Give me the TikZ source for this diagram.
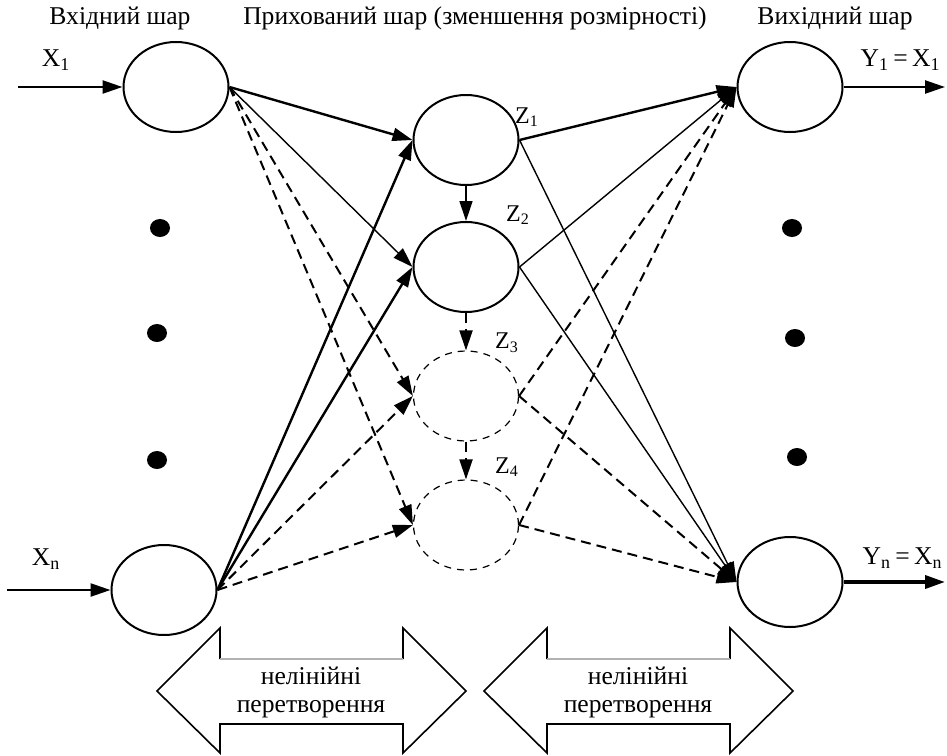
\documentclass[tikz,border=0pt]{standalone}
\usepackage{fontspec}
\setmainfont{Liberation Serif}
\usetikzlibrary{positioning,shapes.geometric,arrows.meta}

\begin{document}
\begin{tikzpicture}[x=0.5pt,y=-0.5pt,
				>={Triangle[length=10pt,width=6.5pt]},
				neuron/.style={ellipse, draw=black, line width=1pt, minimum width=52.5pt, minimum height=45pt, inner sep=0pt},
				hidneuron/.style={neuron, line width=0.6pt, dash pattern=on 3.5pt off 3pt},
				dotnode/.style={ellipse, fill=black, minimum width=10pt, minimum height=9pt, inner sep=0pt},
				lbl/.style={font=\fontsize{12.8}{15}\selectfont, inner sep=0pt},
				zlbl/.style={font=\fontsize{12}{14}\selectfont, inner sep=0pt},
				strong/.style={->, line width=1.2pt},
				weak/.style={->, line width=0.7pt},
				dashline/.style={->, line width=1pt, dash pattern=on 5pt off 3pt},
				bigarrow/.style={draw=black, line width=0.8pt},
				]
				\useasboundingbox (0,0) rectangle (947,755);
		
				%Titles
				\node[lbl]	(titlein)	at (120,18)	{Вхідний шар};
				\node[lbl]	(titlehid)	at (475,18)	{Прихований шар (зменшення розмірності)};
				\node[lbl]	(titleout)	at (835,18)	{Вихідний шар};
		
				%Nodes
				\node[neuron]	(in1)	at (176,87)	{};
				\node[neuron]	(inn)	at (164,590)	{};
				\node[neuron]	(z1)	at (466,140)	{};
				\node[neuron]	(z2)	at (466,267)	{};
				\node[hidneuron]	(z3)	at (466,396)	{};
				\node[hidneuron]	(z4)	at (466,525)	{};
				\node[neuron]	(out1)	at (790,87)	{};
				\node[neuron]	(outn)	at (790,582)	{};
		
				\node[zlbl]	(lz1)	at (527,117)	{Z\textsubscript{1}};
				\node[zlbl]	(lz2)	at (518,215)	{Z\textsubscript{2}};
				\node[zlbl]	(lz3)	at (507,343)	{Z\textsubscript{3}};
				\node[zlbl]	(lz4)	at (507,467)	{Z\textsubscript{4}};
		
				\node[lbl]	(lx1)	at (56,60)	{X\textsubscript{1}};
				\node[lbl]	(lxn)	at (46,559)	{X\textsubscript{n}};
				\node[lbl, anchor=east]	(ly1)	at (941,60)	{Y\textsubscript{1}\,=\,X\textsubscript{1}};
				\node[lbl, anchor=east]	(lyn)	at (943,558)	{Y\textsubscript{n}\,=\,X\textsubscript{n}};
		
				%Dots
				\foreach \i/\x/\y in {1/160/228, 2/157/333, 3/157/460}
					\node[dotnode]	(dotl\i)	at (\x,\y)	{};
				\foreach \i/\x/\y in {1/792/228, 2/795/338, 3/797/457}
					\node[dotnode]	(dotr\i)	at (\x,\y)	{};
		
				%Inputs and outputs
				\coordinate (x1in)	at (18,87);
				\coordinate (xnin)	at (7,590);
				\coordinate (y1out)	at (945,87);
				\coordinate (ynout)	at (945,582);
				\draw[strong]	(x1in) -- (in1.west);
				\draw[strong]	(xnin) -- (inn.west);
				\draw[strong]	(out1.east) -- (y1out);
				\draw[->, line width=1.8pt]	(outn.east) -- (ynout);
		
				%Lines
				\draw[strong]	(in1.east) -- (z1.west);
				\draw[weak]	(in1.east) -- (z2.west);
				\draw[dashline]	(in1.east) -- (z3.west);
				\draw[dashline]	(in1.east) -- (z4.west);
				\draw[strong]	(inn.east) -- (z1.west);
				\draw[strong]	(inn.east) -- (z2.west);
				\draw[dashline]	(inn.east) -- (z3.west);
				\draw[dashline]	(inn.east) -- (z4.west);
		
				\draw[strong]	(z1.east) -- (out1.west);
				\draw[weak]	(z2.east) -- (out1.west);
				\draw[dashline]	(z3.east) -- (out1.west);
				\draw[dashline]	(z4.east) -- (out1.west);
				\draw[weak]	(z1.east) -- (outn.west);
				\draw[weak]	(z2.east) -- (outn.west);
				\draw[dashline]	(z3.east) -- (outn.west);
				\draw[dashline]	(z4.east) -- (outn.west);
		
				\draw[weak]	(z1.south) -- (z2.north);
				\draw[dashline]	(z2.south) -- (z3.north);
				\draw[dashline]	(z3.south) -- (z4.north);
		
				%Transformations
				\foreach \i/\dx in {1/0, 2/327} {
					\begin{scope}[xshift=\dx*0.5pt]
						\draw[bigarrow]	(220,659) -- (220,628) -- (157,691) -- (220,753) -- (220,724) -- (403,724) -- (403,753) -- (466,691) -- (403,628) -- (403,659);
						\draw[gray!60, line width=0.6pt]	(220,659) -- (403,659);
						\node[lbl, align=center]	(trans\i)	at (311,692)	{нелінійні\\[-1pt]перетворення};
					\end{scope}
				}
			\end{tikzpicture}
\end{document}
